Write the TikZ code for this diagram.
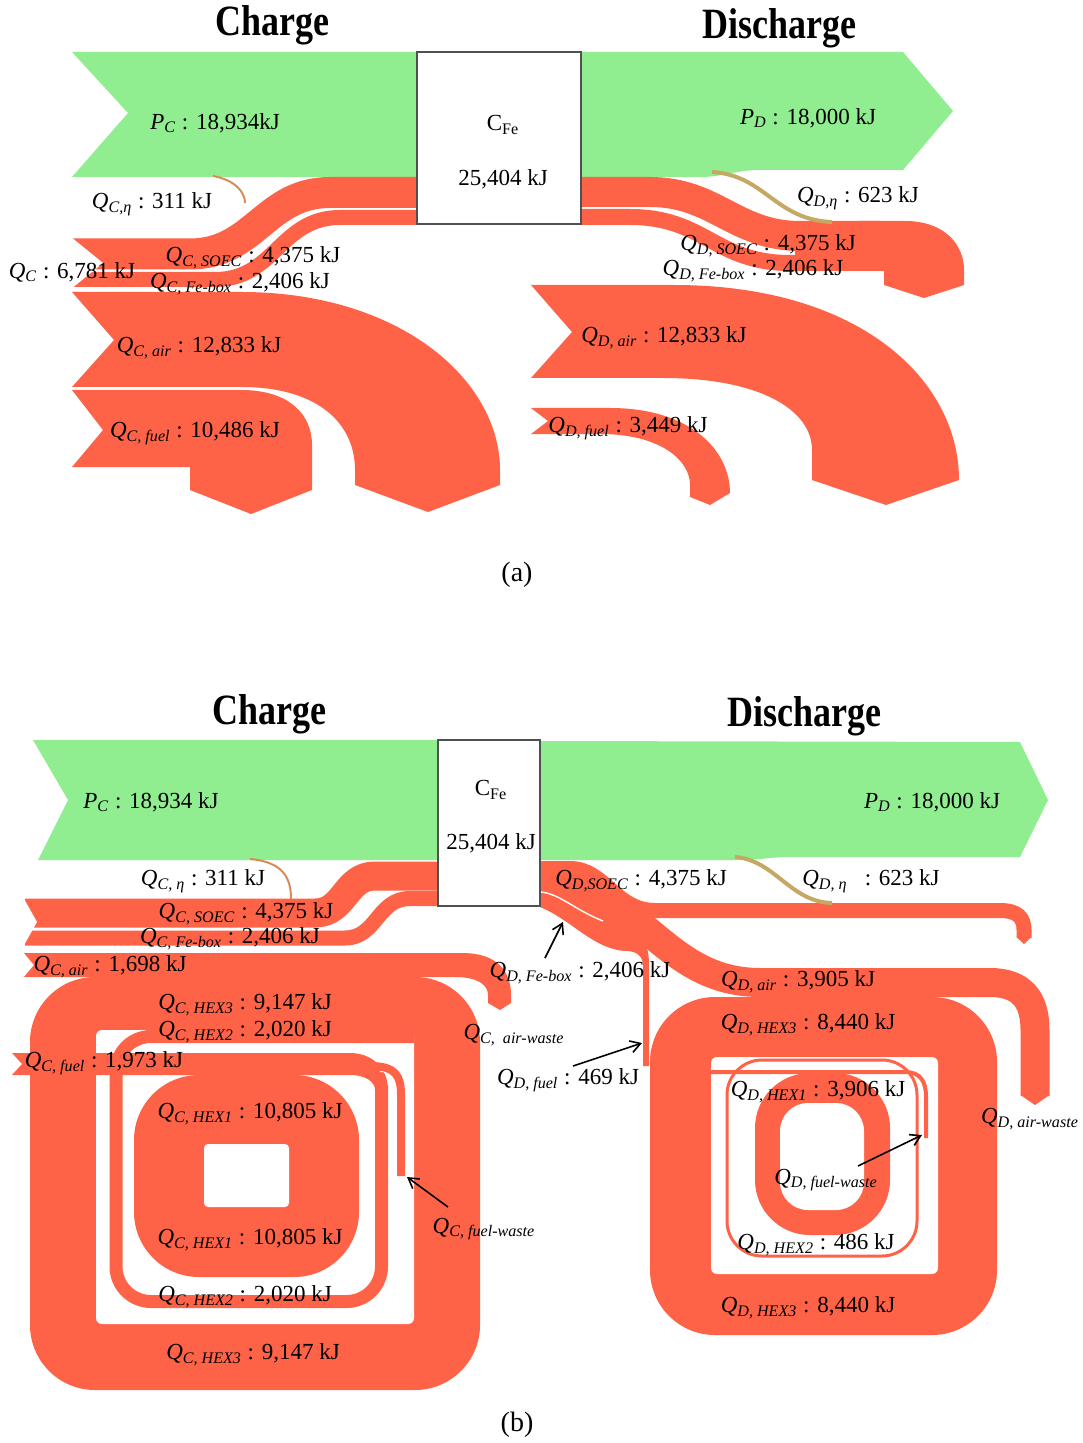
\documentclass[tikz,border=0pt]{standalone}
\usepackage{fontspec}
\setmainfont{Liberation Serif}
\usetikzlibrary{arrows.meta}
\definecolor{flowred}{RGB}{255,99,71}
\definecolor{flowgreen}{RGB}{144,238,144}
\definecolor{boxgray}{RGB}{80,80,80}
\definecolor{lossC}{RGB}{214,140,90}
\definecolor{lossD}{RGB}{196,168,100}
\newcommand{\Qsub}[1]{\textit{Q}\textsubscript{\textit{#1}}}
\newcommand{\Psub}[1]{\textit{P}\textsubscript{\textit{#1}}}
\tikzset{
 flow/.style={fill=flowred},
 green flow/.style={fill=flowgreen},
 band/.style={draw=flowred, line width=#1pt},
 gap/.style={fill=white},
 loss/.style={draw=#1, line width=1pt},
 lab/.style={font=\fontsize{11.5}{13}\selectfont, inner sep=0pt},
 title/.style={font=\bfseries\fontsize{18}{20}\selectfont, inner sep=0pt},
 fe box/.style={draw=boxgray, line width=1.2pt, fill=white, inner sep=0pt},
 pointer/.style={-{Straight Barb[length=5pt,width=6pt]}, line width=0.8pt}
}
\begin{document}
\begin{tikzpicture}[x=0.5pt,y=-0.5pt]
\useasboundingbox (0,0) rectangle (1082,1443);

\node[title] (chargeA) at (272,25) {\scalebox{1}[1.2]{Charge}};
\node[title] (dischargeA) at (779,28) {\scalebox{1}[1.2]{Discharge}};

\fill[green flow] (72,52) -- (417,52) -- (417,177) -- (72,177) -- (128,113) -- cycle;
\fill[green flow] (581,52) -- (903,52) -- (953,111) -- (903,170) -- (760,170) .. controls (735,170) and (725,177) .. (700,177) -- (581,177) -- cycle;

\draw[band=15.5] (417,192.5) -- (330,192.5) .. controls (265,192.5) and (255,254) .. (190,254) -- (72,254);
\draw[band=7.5] (417,217.5) -- (340,217.5) .. controls (280,217.5) and (275,279.5) .. (215,279.5) -- (72,279.5);
\fill[gap] (71,237) -- (103,263) -- (71,289) -- cycle;
\fill[flow] (72,292) -- (241,292) .. controls (400,292) and (500,380) .. (500,470) -- (500,485) -- (428,512) -- (355,485) -- (355,470) .. controls (355,425) and (320,387) .. (241,387) -- (72,387) -- (114,340) -- cycle;
\fill[flow] (72,390) -- (241,390) .. controls (290,390) and (312,415) .. (312,445) -- (312,490) -- (251,514) -- (190,490) -- (190,467) -- (72,467) -- (103,430) -- cycle;

\draw[band=15] (581,192) -- (650,192) .. controls (715,192) and (735,236) .. (800,236) -- (880,236);
\draw[band=8] (581,217) -- (630,217) .. controls (705,217) and (715,263) .. (790,263) -- (880,263);
\fill[flow] (795,249) rectangle (880,257);
\fill[flow] (860,221) -- (905,221) .. controls (945,221) and (964,245) .. (964,270) -- (964,285) -- (924,298) -- (884,285) -- (884,271) -- (860,271) -- cycle;
\fill[flow] (531,285) -- (674,285) .. controls (860,285) and (959,380) .. (959,480) -- (886,505) -- (812,480) -- (812,450) .. controls (812,410) and (760,378) .. (663,378) -- (531,378) -- (572,332) -- cycle;
\fill[flow] (531,408) -- (610,408) .. controls (690,408) and (730,450) .. (730,493) -- (710,505) -- (690,497) -- (690,485) .. controls (690,460) and (660,434) .. (600,434) -- (531,434) -- (548,421) -- cycle;

\draw[loss=lossC] (213,176) .. controls (235,180) and (245,192) .. (245,203);
\draw[loss=lossD, line width=2pt] (712,172) .. controls (765,175) and (775,220) .. (832,222);

\node[fe box, minimum width=82pt, minimum height=86pt] (boxA) at (499,138) {};
\node[lab] (cfeA) at (503,125) {C\textsubscript{Fe}};
\node[lab] (storeA) at (503,179) {25,404 kJ};

\node[lab] (pcA) at (215,123) {\Psub{C} : 18,934kJ};
\node[lab] (pdA) at (808,118) {\Psub{D} : 18,000 kJ};
\node[lab] (qcetaA) at (152,204) {\Qsub{C,η} : 311 kJ};
\node[lab] (qdetaA) at (858,198) {\Qsub{D,η} : 623 kJ};
\node[lab] (qcA) at (72,272) {\Qsub{C} : 6,781 kJ};
\node[lab] (qcsoecA) at (253,258) {\Qsub{C, SOEC} : 4,375 kJ};
\node[lab] (qcfeA) at (240,284) {\Qsub{C, Fe-box} : 2,406 kJ};
\node[lab] (qcairA) at (199,348) {\Qsub{C, air} : 12,833 kJ};
\node[lab] (qcfuelA) at (195,433) {\Qsub{C, fuel} : 10,486 kJ};
\node[lab] (qdsoecA) at (768,246) {\Qsub{D, SOEC} : 4,375 kJ};
\node[lab] (qdfeA) at (753,271) {\Qsub{D, Fe-box} : 2,406 kJ};
\node[lab] (qdairA) at (664,338) {\Qsub{D, air} : 12,833 kJ};
\node[lab] (qdfuelA) at (628,428) {\Qsub{D, fuel} : 3,449 kJ};
\node[lab, font=\fontsize{14}{16}\selectfont] (capA) at (517,575) {(a)};

\node[title] (chargeB) at (269,714) {\scalebox{1}[1.2]{Charge}};
\node[title] (dischargeB) at (804,716) {\scalebox{1}[1.2]{Discharge}};

\fill[green flow] (33,740) -- (438,740) -- (438,860) -- (38,860) -- (68,800) -- cycle;
\fill[green flow] (540,741) -- (1020,742) -- (1048,800) -- (1020,857) -- (790,857) .. controls (770,857) and (760,860) .. (740,860) -- (540,860) -- cycle;

\fill[flow, rounded corners=32.5pt] (30,977) rectangle (480,1390);
\fill[gap, rounded corners=3pt] (96,1030) rectangle (414,1324);
\fill[flow] (24,953) -- (462,953) .. controls (498,953) and (511,972) .. (511,995) -- (511,1003) -- (500,1010) -- (488,1003) -- (488,995) .. controls (488,985) and (478,977) .. (455,977) -- (24,977) -- (34,965) -- cycle;
\draw[band=6.5, rounded corners=17.5pt] (414,1036.5) -- (116,1036.5) -- (116,1301.5) -- (381.5,1301.5) -- (381.5,1085);
\fill[flow] (12,1053) -- (350,1053) .. controls (372,1053) and (388,1068) .. (388,1090) -- (375,1090) .. controls (375,1082) and (366,1075) .. (350,1075) -- (12,1075) -- (22,1064) -- cycle;
\draw[white, line width=6pt] (380,1066) .. controls (396,1066) and (401,1076) .. (401,1095) -- (401,1178);
\draw[band=4] (370,1066) .. controls (396,1066) and (401,1076) .. (401,1095) -- (401,1176);
\fill[flow, rounded corners=32.5pt] (134,1075) rectangle (359,1277);
\fill[gap, rounded corners=2pt] (204,1144) rectangle (289,1207);

\draw[band=14.5] (438,876) -- (375,876) .. controls (345,876) and (345,913) .. (315,913) -- (25,913);
\draw[band=7.5] (438,898.5) -- (410,898.5) .. controls (377,898.5) and (377,938) .. (345,938) -- (25,938);
\fill[gap] (23,897) -- (37,922) -- (23,947) -- cycle;

\fill[flow, rounded corners=32.5pt] (650,997) rectangle (997,1335);
\fill[gap, rounded corners=3pt] (711,1057) rectangle (938,1274);
\draw[band=14.5] (540,883) .. controls (640,883) and (660,982.5) .. (760,982.5) -- (990,982.5) .. controls (1022,982.5) and (1035,1000) .. (1035,1030) -- (1035,1096);
\fill[flow] (1020.5,1095) -- (1049.5,1095) -- (1035,1105) -- cycle;
\draw[band=7.5] (540,868.5) -- (570,868.5) .. controls (605,868.5) and (615,910.5) .. (655,910.5) -- (1000,910.5) .. controls (1018,910.5) and (1024,918) .. (1024,930) -- (1024,938);
\fill[flow] (1016.5,937) -- (1031.5,937) -- (1024,944) -- cycle;
\fill[flow] (540,892) .. controls (575,890) and (585,905) .. (625,912) -- (640,935) .. controls (647,944) and (649,952) .. (649,965) -- (649,1066) -- (643,1066) -- (643,966) .. controls (643,957) and (638,952) .. (628,951) .. controls (595,951) and (572,920) .. (540,907) -- cycle;
\draw[white, line width=0.7pt] (541,892) .. controls (560,894) and (575,910) .. (603,921);
\draw[flowred, line width=1.5pt, rounded corners=17.5pt] (727,1060) rectangle (917,1256);
\fill[flow, rounded corners=27.5pt] (755,1073) rectangle (890,1235);
\fill[gap, rounded corners=14pt] (780,1103) rectangle (864,1210);
\draw[band=2] (705,1072) -- (905,1072) .. controls (921,1072) and (926,1082) .. (926,1097) -- (926,1138);

\draw[loss=lossC] (250,859) .. controls (285,862) and (291,880) .. (291,899);
\draw[loss=lossD, line width=2pt] (735,857) .. controls (775,860) and (790,902) .. (832,903);

\node[fe box, minimum width=51pt, minimum height=83pt] (boxB) at (489,823) {};
\node[lab] (cfeB) at (491,790) {C\textsubscript{Fe}};
\node[lab] (storeB) at (491,843) {25,404 kJ};

\node[lab] (pcB) at (151,802) {\Psub{C} : 18,934 kJ};
\node[lab] (pdB) at (932,802) {\Psub{D} : 18,000 kJ};
\node[lab] (qcetaB) at (203,881) {\Qsub{C, η} : 311 kJ};
\node[lab] (qcsoecB) at (246,914) {\Qsub{C, SOEC} : 4,375 kJ};
\node[lab] (qcfeB) at (230,939) {\Qsub{C, Fe-box} : 2,406 kJ};
\node[lab] (qcairB) at (110,967) {\Qsub{C, air} : 1,698 kJ};
\node[lab] (qchexthreeB) at (245,1005) {\Qsub{C, HEX3} : 9,147 kJ};
\node[lab] (qchextwoB) at (245,1032) {\Qsub{C, HEX2} : 2,020 kJ};
\node[lab] (qcfuelB) at (104,1063) {\Qsub{C, fuel} : 1,973 kJ};
\node[lab] (qchexoneB) at (250,1114) {\Qsub{C, HEX1} : 10,805 kJ};
\node[lab] (qchexoneLow) at (250,1240) {\Qsub{C, HEX1} : 10,805 kJ};
\node[lab] (qchextwoLow) at (245,1297) {\Qsub{C, HEX2} : 2,020 kJ};
\node[lab] (qchexthreeLow) at (253,1355) {\Qsub{C, HEX3} : 9,147 kJ};
\node[lab] (qcawB) at (514,1035) {\Qsub{C,\ \ air-waste}};
\node[lab] (qcfwB) at (484,1229) {\Qsub{C,\ fuel-waste}};

\node[lab] (qdsoecB) at (641,881) {\Qsub{D,SOEC} : 4,375 kJ};
\node[lab] (qdetaB) at (871,881) {\Qsub{D, η}\ \ \ : 623 kJ};
\node[lab] (qdfeB) at (580,973) {\Qsub{D, Fe-box} : 2,406 kJ};
\node[lab] (qdairB) at (798,982) {\Qsub{D, air} : 3,905 kJ};
\node[lab] (qdhexthreeB) at (808,1025) {\Qsub{D, HEX3} : 8,440 kJ};
\node[lab] (qdfuelB) at (568,1080) {\Qsub{D, fuel} : 469 kJ};
\node[lab] (qdhexoneB) at (818,1092) {\Qsub{D, HEX1} : 3,906 kJ};
\node[lab] (qdawB) at (1030,1119) {\Qsub{D,\ air-waste}};
\node[lab] (qdfwB) at (826,1180) {\Qsub{D,\ fuel-waste}};
\node[lab] (qdhextwoB) at (816,1245) {\Qsub{D, HEX2} : 486 kJ};
\node[lab] (qdhexthreeLow) at (808,1308) {\Qsub{D, HEX3} : 8,440 kJ};
\node[lab, font=\fontsize{14}{16}\selectfont] (capB) at (517,1425) {(b)};

\coordinate (febTail) at (545,958);
\coordinate (febTip) at (563,922);
\coordinate (dfuelTail) at (573,1066);
\coordinate (dfuelTip) at (642,1043);
\coordinate (cfwTail) at (448,1207);
\coordinate (cfwTip) at (407,1177);
\coordinate (dfwTail) at (858,1166);
\coordinate (dfwTip) at (922,1135);
\draw[pointer] (febTail) -- (febTip);
\draw[pointer] (dfuelTail) -- (dfuelTip);
\draw[pointer] (cfwTail) -- (cfwTip);
\draw[pointer] (dfwTail) -- (dfwTip);
\end{tikzpicture}
\end{document}
